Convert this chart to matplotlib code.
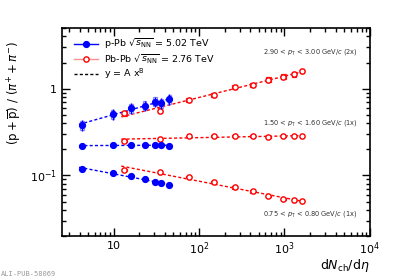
"""
(p + pbar) / (pi+ + pi-) vs dNch/deta for p-Pb and Pb-Pb, three pT bins,
each with a power-law fit y = A x^B.
"""

import numpy as np
import matplotlib.pyplot as plt
from matplotlib.lines import Line2D
from matplotlib.patches import Rectangle
from matplotlib.ticker import FixedLocator, NullFormatter, FuncFormatter

# ── data ────────────────────────────────────────────────────────────────────
dndeta_ppb = [4.3, 9.8, 16.1, 23.2, 30.5, 36.2, 45.0]
dndeta_pbpb = [13.4, 35.0, 76.0, 149.0, 261.0, 426.0, 649.0, 966.0, 1294.0, 1601.0]

# 2.90 < pT < 3.00 GeV/c (scaled x2)
ppb_high = [0.383, 0.512, 0.594, 0.638, 0.709, 0.678, 0.753]
pbpb_high = [0.520, 0.559, 0.741, 0.846, 1.05, 1.10, 1.27, 1.38, 1.47, 1.60]
# 1.50 < pT < 1.60 GeV/c
ppb_mid = [0.218, 0.222, 0.226, 0.224, 0.224, 0.222, 0.219]
pbpb_mid = [0.252, 0.264, 0.281, 0.283, 0.286, 0.286, 0.278, 0.281, 0.283, 0.281]
# 0.75 < pT < 0.80 GeV/c
ppb_low = [0.119, 0.107, 0.098, 0.090, 0.0838, 0.0816, 0.0774]
pbpb_low = [0.115, 0.109, 0.0956, 0.0838, 0.0728, 0.0655, 0.0578, 0.0534, 0.0516, 0.0507]

# relative uncertainties (stat, syst) per bin
ppb_stat = [0.14, 0.02, 0.02]
ppb_syst = [0.12, 0.02, 0.02]
pbpb_syst = [0.06, 0.025, 0.035]

bin_labels = [
    r"2.90 < $p_{\mathrm{T}}$ < 3.00 GeV/$c$ (2x)",
    r"1.50 < $p_{\mathrm{T}}$ < 1.60 GeV/$c$ (1x)",
    r"0.75 < $p_{\mathrm{T}}$ < 0.80 GeV/$c$ (1x)",
]

BLUE = "#0000ff"
RED = "#ff0000"
BLUE_SYS = "#8c8cff"
RED_SYS = "#ff2020"


def syst_boxes(ax, x, y, rel, half_dec, color, lw):
    for xi, yi in zip(x, y):
        x0 = xi * 10 ** (-half_dec)
        x1 = xi * 10 ** half_dec
        y0 = yi * (1 - rel)
        y1 = yi * (1 + rel)
        ax.add_patch(Rectangle((x0, y0), x1 - x0, y1 - y0, fill=False,
                               edgecolor=color, linewidth=lw, zorder=2))


def power_fit(ax, x, y, color):
    x = np.asarray(x)
    b, log_a = np.polyfit(np.log10(x), np.log10(y), 1)
    xs = np.logspace(np.log10(x.min() * 0.92), np.log10(x.max() * 1.06), 50)
    ax.plot(xs, 10 ** log_a * xs ** b, color=color, linestyle=(0, (2.2, 1.6)),
            linewidth=1.0, zorder=1)


def root_label(v, _pos):
    if np.isclose(v, 1):
        return "1"
    if np.isclose(v, 10):
        return "10"
    return r"$10^{%d}$" % int(round(np.log10(v)))


fig = plt.figure(figsize=(4.11, 2.78), dpi=100)
ax = fig.add_axes([0.151, 0.151, 0.749, 0.748])
ax.set_xscale("log")
ax.set_yscale("log")
ax.set_xlim(2.5, 1e4)
ax.set_ylim(0.02, 5)

ppb_sets = [ppb_high, ppb_mid, ppb_low]
pbpb_sets = [pbpb_high, pbpb_mid, pbpb_low]

for i, (yp, ya) in enumerate(zip(ppb_sets, pbpb_sets)):
    power_fit(ax, dndeta_pbpb, ya, RED)
    power_fit(ax, dndeta_ppb, yp, BLUE)
    syst_boxes(ax, dndeta_pbpb, ya, pbpb_syst[i], 0.028, RED_SYS, 0.9)
    syst_boxes(ax, dndeta_ppb, yp, ppb_syst[i], 0.02, BLUE_SYS, 0.9)
    ax.plot(dndeta_pbpb, ya, linestyle="none", marker="o", markersize=3.8,
            markerfacecolor="white", markeredgecolor=RED, markeredgewidth=1.0, zorder=3)
    yerr = np.asarray(yp) * ppb_stat[i]
    ax.errorbar(dndeta_ppb, yp, yerr=yerr, fmt="o", color=BLUE, markersize=4.2,
                elinewidth=1.0, capsize=0, zorder=4)

# pT bin annotations
for label, ypos in zip(bin_labels, [0.885, 0.543, 0.106]):
    ax.text(0.96, ypos, label, fontsize=4.8, ha="right", va="center",
            color="#333333", transform=ax.transAxes)

# legend
handles = [
    Line2D([], [], color=BLUE, marker="o", markersize=4.2, linewidth=1.0),
    Line2D([], [], color="#ff9090", marker="o", markersize=3.8, linewidth=1.0,
           markerfacecolor="white", markeredgecolor=RED),
    Line2D([], [], color="black", linestyle=(0, (2.2, 1.6)), linewidth=1.0),
]
labels = [
    r"p-Pb $\sqrt{s_{\mathrm{NN}}}$ = 5.02 TeV",
    r"Pb-Pb $\sqrt{s_{\mathrm{NN}}}$ = 2.76 TeV",
    r"y = A x$^{\mathrm{B}}$",
]
ax.legend(handles, labels, loc="upper left", bbox_to_anchor=(0.02, 0.985),
          frameon=False, fontsize=6.8, handlelength=2.6, handletextpad=0.6,
          labelspacing=0.12, borderaxespad=0.2)

# ROOT-style axes
ax.xaxis.set_major_locator(FixedLocator([10, 100, 1000, 10000]))
ax.yaxis.set_major_locator(FixedLocator([0.1, 1]))
ax.xaxis.set_major_formatter(FuncFormatter(root_label))
ax.yaxis.set_major_formatter(FuncFormatter(root_label))
ax.xaxis.set_minor_formatter(NullFormatter())
ax.yaxis.set_minor_formatter(NullFormatter())
ax.tick_params(which="both", direction="in", top=True, right=True, width=1.0,
               labelsize=8)
ax.tick_params(which="major", length=6)
ax.tick_params(which="minor", length=3)
for s in ax.spines.values():
    s.set_linewidth(1.2)

ax.set_xlabel(r"d$N_{\mathrm{ch}}$/d$\eta$", fontsize=9, loc="right", labelpad=0)
ax.set_ylabel(r"$(\mathrm{p}+\overline{\mathrm{p}})\ /\ (\pi^{+}+\pi^{-})$", fontsize=8.5)
ax.yaxis.set_label_coords(-0.125, 0.69)

fig.text(0.003, 0.005, "ALI-PUB-58069", fontsize=5, family="monospace",
         color="#999999", ha="left", va="bottom")

fig.savefig("out.png", dpi=100)
